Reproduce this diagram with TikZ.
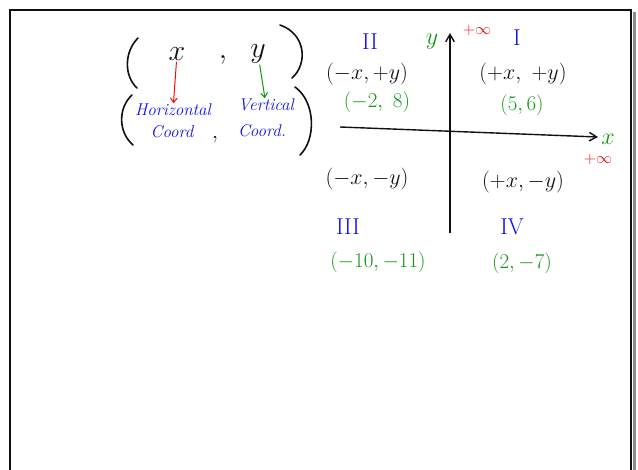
\RequirePackage{fix-cm}
\documentclass[tikz,border=0pt]{standalone}
\usepackage{tikz}
\usetikzlibrary{arrows.meta,positioning}
\definecolor{inkblue}{HTML}{1010F0}
\definecolor{inkgreen}{HTML}{129612}
\definecolor{inkred}{HTML}{F01010}
\definecolor{inkblack}{HTML}{101010}
\tikzset{
  bigsign/.style={font=\fontsize{30}{32}\selectfont, inner sep=1pt, text=inkblack},
  signpair/.style={font=\fontsize{22}{24}\selectfont, inner sep=1pt, text=inkblack},
  numpair/.style={font=\fontsize{21}{23}\selectfont, inner sep=1pt, text=inkgreen},
  quadname/.style={font=\fontsize{23}{25}\selectfont, inner sep=1pt, text=inkblue},
  coordword/.style={font=\itshape\fontsize{17}{19}\selectfont, inner sep=0.5pt, text=inkblue},
  inflbl/.style={font=\fontsize{16}{17}\selectfont, inner sep=0pt, text=inkred},
  axislbl/.style={font=\fontsize{24}{26}\selectfont, inner sep=0pt, text=inkgreen},
  paren/.style={draw=inkblack, line width=1.6pt, line cap=round},
  axisarr/.style={-{Straight Barb[length=2.6mm,width=3mm]}, line width=1.4pt, draw=inkblack},
  downarr/.style={-{Straight Barb[length=1.6mm,width=2.4mm]}, line width=1pt}
}
\begin{document}
\begin{tikzpicture}[x=1pt,y=-1pt]
  \useasboundingbox (0,0) rectangle (638,470);
  % board frame
  \draw[line width=2.2pt, draw=inkblack] (10,472) -- (10,10) -- (631,10) -- (631,472);
  \draw[line width=2.5pt, draw=black!45] (634.5,12) -- (634.5,472);

  % the pair (x , y)
  \draw[paren] (138,38) .. controls (124,52) and (124,76) .. (137,88);
  \draw[paren] (280,25) .. controls (306,34) and (308,64) .. (292,78);
  \node[bigsign] (xsym) at (177,54) {$x$};
  \node[bigsign] (comma) at (223,60) {$,$};
  \node[bigsign] (ysym) at (258,54) {$y$};

  % what each entry means
  \draw[paren] (132,95) .. controls (118,108) and (118,132) .. (133,145);
  \draw[paren] (295,87) .. controls (316,102) and (316,140) .. (300,155);
  \node[coordword] (horiz) at (173,110) {Horizontal};
  \node[coordword] (vert) at (266,105) {Vertical};
  \node[coordword] (hcoord) at (172,132) {Coord};
  \node[coordword] (vcoord) at (262,131) {Coord.};
  \node[signpair] (comma2) at (215,140) {$,$};
  \draw[downarr, draw=inkred] (xsym) -- (horiz);
  \draw[downarr, draw=inkgreen] (ysym) -- (vert);

  % axes
  \coordinate (xstart) at (340,127);
  \coordinate (xend) at (598,137);
  \coordinate (ystart) at (450,233);
  \coordinate (yend) at (450,33);
  \draw[axisarr] (xstart) -- (xend);
  \draw[axisarr] (ystart) -- (yend);
  \node[axislbl] (xname) at (608,139) {$x$};
  \node[inflbl] (xinf) at (598,160) {$+\infty$};
  \node[axislbl] (yname) at (432,42) {$y$};
  \node[inflbl] (yinf) at (477,31) {$+\infty$};

  % quadrants
  \node[quadname] (q1) at (517,38) {I};
  \node[quadname] (q2) at (370,42) {II};
  \node[quadname] (q3) at (348,227) {III};
  \node[quadname] (q4) at (512,227) {IV};
  \node[signpair] (s1) at (523,74) {$(+x,\ +y)$};
  \node[signpair] (s2) at (367,74) {$(-x,+y)$};
  \node[signpair] (s3) at (367,179) {$(-x,-y)$};
  \node[signpair] (s4) at (523,182) {$(+x,-y)$};
  \node[numpair] (p1) at (522,105) {$(5,6)$};
  \node[numpair] (p2) at (377,102) {$(-2,\ 8)$};
  \node[numpair] (p3) at (378,262) {$(-10,-11)$};
  \node[numpair] (p4) at (522,263) {$(2,-7)$};
\end{tikzpicture}
\end{document}
